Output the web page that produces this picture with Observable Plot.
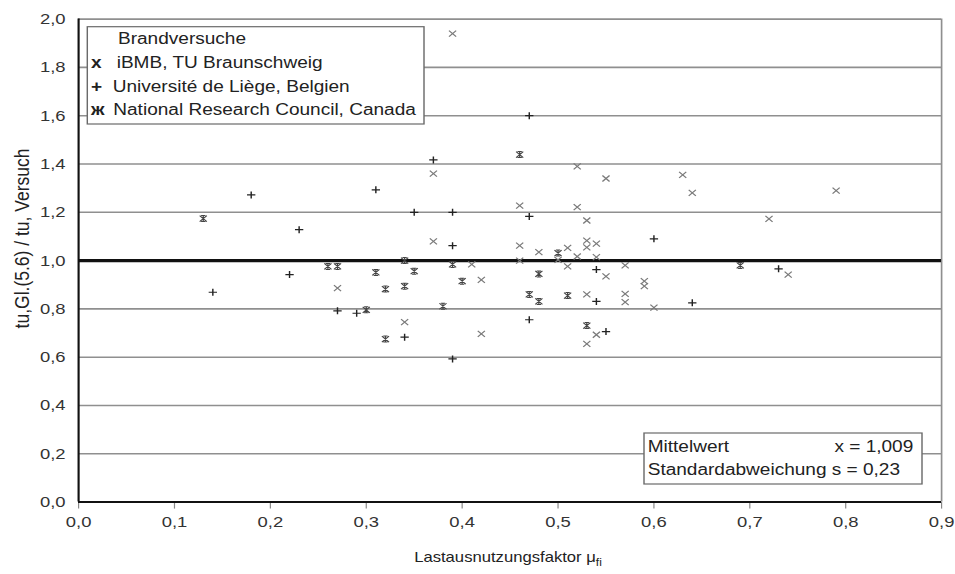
<!DOCTYPE html>
<html><head><meta charset="utf-8">
<script src="https://cdn.jsdelivr.net/npm/d3@7"></script>
<script src="https://cdn.jsdelivr.net/npm/@observablehq/plot@0.6"></script>
<style>html,body{margin:0;padding:0;background:#fff}#chart svg{display:block}</style>
</head><body><div id="chart"></div>
<script>
// ---- data ----
const ibmbX = [0.39,0.37,0.52,0.55,0.63,0.64,0.79,0.72,0.46,0.52,0.53,0.37,0.46,0.48,0.51,0.53,0.53,0.54,0.41,0.46,0.50,0.51,0.52,0.54,0.57,0.42,0.55,0.59,0.59,0.53,0.57,0.57,0.60,0.34,0.42,0.54,0.53,0.27,0.74];
const ibmbY = [1.94,1.36,1.39,1.34,1.355,1.28,1.29,1.173,1.228,1.221,1.166,1.08,1.062,1.035,1.053,1.083,1.055,1.07,0.984,1.0,1.003,0.976,1.017,1.014,0.98,0.92,0.935,0.915,0.894,0.86,0.862,0.828,0.805,0.745,0.697,0.693,0.655,0.886,0.942];
const liegeX = [0.18,0.31,0.23,0.35,0.39,0.47,0.39,0.60,0.54,0.54,0.64,0.34,0.47,0.55,0.39,0.47,0.37,0.22,0.14,0.27,0.29,0.73];
const liegeY = [1.272,1.293,1.128,1.20,1.20,1.183,1.062,1.09,0.963,0.831,0.825,0.683,0.755,0.706,0.593,1.60,1.417,0.942,0.869,0.792,0.782,0.966];
const nrcX = [0.46,0.13,0.50,0.34,0.39,0.35,0.40,0.48,0.34,0.47,0.48,0.51,0.38,0.53,0.26,0.27,0.31,0.32,0.30,0.32,0.69];
const nrcY = [1.439,1.174,1.031,1.0,0.984,0.956,0.915,0.945,0.894,0.86,0.831,0.855,0.811,0.731,0.976,0.976,0.951,0.882,0.796,0.675,0.98];
const xTicks = [0,0.1,0.2,0.3,0.4,0.5,0.6,0.7,0.8,0.9];
const yTicks = [0,0.2,0.4,0.6,0.8,1.0,1.2,1.4,1.6,1.8,2.0];
const legendTitle = "Brandversuche";
const seriesNames = ["iBMB, TU Braunschweig","Université de Liège, Belgien","National Research Council, Canada"];
const seriesGlyphs = ["x","+","ж"];
const statsLines = [["Mittelwert","x = 1,009"],["Standardabweichung s = 0,23",""]];
const xTitle = "Lastausnutzungsfaktor μ", xTitleSub = "fi";
const yTitle = "tu,Gl.(5.6) / tu, Versuch";

// ---- layout ----
const W = 955, H = 574, S = 1.19, PW = W / S;
const X0 = 78, X9 = 941, Y0 = 501.6, Y2 = 18.6;
const px = v => v / S;
const fmt = d => d.toFixed(1).replace(".", ",");
const FONT = "'Liberation Sans', Arial, Helvetica, sans-serif";

const timesSym = {draw(c, size){const h=Math.sqrt(size/Math.PI); c.moveTo(-h,-h); c.lineTo(h,h); c.moveTo(-h,h); c.lineTo(h,-h);}};
const plusSym = {draw(c, size){const h=Math.sqrt(size/Math.PI); c.moveTo(-h,0); c.lineTo(h,0); c.moveTo(0,-h); c.lineTo(0,h);}};
const starSym = {draw(c, size){const h=Math.sqrt(size/Math.PI); c.moveTo(-h,-h); c.lineTo(h,h); c.moveTo(-h,h); c.lineTo(h,-h); c.moveTo(0,-h); c.lineTo(0,h); c.moveTo(-h*0.6,-h); c.lineTo(h*0.6,-h); c.moveTo(-h*0.6,h); c.lineTo(h*0.6,h);}};

const chart = Plot.plot({
  width: PW, height: H,
  marginLeft: px(X0), marginRight: px(W - X9), marginTop: Y2, marginBottom: H - Y0,
  style: {fontFamily: FONT, fontSize: "15.5px", color: "#333", background: "#fff"},
  x: {domain: [0, 0.9], ticks: xTicks, tickFormat: fmt, tickSize: 7, tickPadding: 7, label: null},
  y: {domain: [0, 2], ticks: yTicks, tickFormat: fmt, tickSize: 0, tickPadding: 11, label: null},
  marks: [
    Plot.ruleY(yTicks.filter(v => v !== 1 && v !== 0), {stroke: "#8f8f8f", strokeWidth: 1.6}),
    Plot.ruleX([0.9], {stroke: "#8f8f8f", strokeWidth: 1.4}),
    Plot.ruleY([1], {stroke: "#111", strokeWidth: 3.2}),
    Plot.ruleX([0], {stroke: "#111", strokeWidth: 1.8}),
    Plot.ruleY([0], {stroke: "#111", strokeWidth: 2}),
    Plot.dot(ibmbX, {x: ibmbX, y: ibmbY, symbol: timesSym, r: 3, stroke: "#7a7a7a", strokeWidth: 1.1, fill: "none"}),
    Plot.dot(liegeX, {x: liegeX, y: liegeY, symbol: plusSym, r: 3.5, stroke: "#222", strokeWidth: 1.2, fill: "none"}),
    Plot.dot(nrcX, {x: nrcX, y: nrcY, symbol: starSym, r: 3, stroke: "#444", strokeWidth: 1, fill: "none"})
  ]
});

chart.setAttribute("width", W);
chart.setAttribute("height", H);
chart.setAttribute("preserveAspectRatio", "none");
chart.style.width = W + "px";
chart.style.height = H + "px";
chart.style.maxWidth = "none";

const svg = d3.select(chart);
svg.selectAll('g[aria-label="x-axis tick"] path, g[aria-label="x-axis"] line').attr("stroke", "#888");

// legend box
const lg = svg.append("g").attr("font-family", FONT).attr("font-size", 16).attr("fill", "#222").attr("text-anchor", "start");
lg.append("rect").attr("x", px(87.3)).attr("y", 26.7).attr("width", px(424 - 87.3)).attr("height", 124 - 26.7)
  .attr("fill", "#fff").attr("stroke", "#6a6a6a").attr("stroke-width", 1.2);
lg.append("text").attr("x", px(118)).attr("y", 44).text(legendTitle);
const rowY = [68, 91.7, 115];
const textX = [116.7, 112.7, 113.3];
seriesNames.forEach((n, i) => {
  lg.append("text").attr("x", px(91)).attr("y", rowY[i]).attr("font-weight", "bold").text(seriesGlyphs[i]);
  lg.append("text").attr("x", px(textX[i])).attr("y", rowY[i]).text(n);
});

// stats box
const sg = svg.append("g").attr("font-family", FONT).attr("font-size", 16).attr("fill", "#222").attr("text-anchor", "start");
sg.append("rect").attr("x", px(644)).attr("y", 433).attr("width", px(922 - 644)).attr("height", 484 - 433)
  .attr("fill", "#fff").attr("stroke", "#6a6a6a").attr("stroke-width", 1.2);
sg.append("text").attr("x", px(647.7)).attr("y", 451.7).text(statsLines[0][0]);
sg.append("text").attr("x", px(913.3)).attr("y", 451.7).attr("text-anchor", "end").text(statsLines[0][1]);
sg.append("text").attr("x", px(647.7)).attr("y", 475).text(statsLines[1][0]);

// axis titles
svg.append("text").attr("font-family", FONT).attr("font-size", 17.5).attr("fill", "#222")
  .attr("text-anchor", "middle").attr("transform", `translate(${px(28.8)},238.5) rotate(-90)`).text(yTitle);
const xt = svg.append("text").attr("font-family", FONT).attr("font-size", 14).attr("fill", "#222")
  .attr("text-anchor", "middle").attr("x", px(508)).attr("y", 562);
xt.append("tspan").text(xTitle);
xt.append("tspan").attr("font-size", 10).attr("dy", 4).text(xTitleSub);

document.getElementById("chart").appendChild(chart);
</script>
</body></html>
